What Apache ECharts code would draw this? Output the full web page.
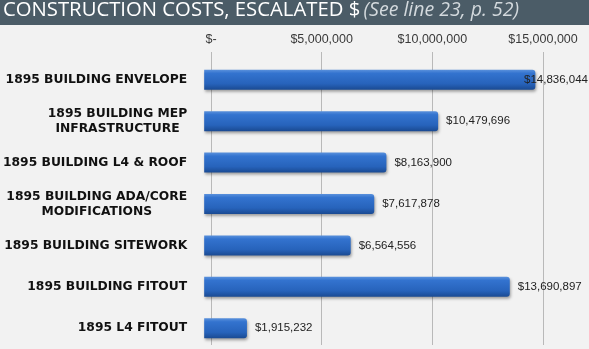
<!DOCTYPE html>
<html>
<head>
<meta charset="utf-8">
<style>
  html, body { margin: 0; padding: 0; background: #f2f2f2; }
  #chart { width: 589px; height: 349px; }
</style>
<script src="https://cdn.jsdelivr.net/npm/echarts@6/dist/echarts.min.js"></script>
</head>
<body>
<div id="chart"></div>
<script>
// Project cost items (top to bottom) and their escalated construction costs in dollars
const categories = [
  '1895 BUILDING ENVELOPE',
  '1895 BUILDING MEP\nINFRASTRUCTURE',
  '1895 BUILDING L4 & ROOF',
  '1895 BUILDING ADA/CORE\nMODIFICATIONS',
  '1895 BUILDING SITEWORK',
  '1895 BUILDING FITOUT',
  '1895 L4 FITOUT'
];
const costs = [14836044, 10479696, 8163900, 7617878, 6564556, 13690897, 1915232];

// Value axis range and tick step
const axisMin = 0;
const axisMax = 15000000;
const axisStep = 5000000;

const titleMain = 'CONSTRUCTION COSTS, ESCALATED $';
const titleNote = '(See line 23, p. 52)';

function money(v) {
  if (v === 0) return '$-';
  return '$' + v.toLocaleString('en-US');
}

const chart = echarts.init(document.getElementById('chart'), null, { renderer: 'canvas' });
const W = 589;

const option = {
  backgroundColor: '#f2f2f2',
  animation: false,
  graphic: [
    { type: 'rect', left: 0, top: 0, shape: { width: W, height: 25 }, style: { fill: '#4b5c67' }, z: 10 },
    {
      type: 'text', left: 3, top: 0, z: 11,
      style: {
        text: '{a|' + titleMain + '} {b|' + titleNote + '}',
        rich: {
          a: { fontFamily: 'Open Sans', fontSize: 20.3, fontWeight: 400, fill: '#ffffff', lineHeight: 25 },
          b: { fontFamily: 'Open Sans', fontSize: 19.5, fontStyle: 'italic', fontWeight: 400, fill: '#d3d9dd', lineHeight: 25 }
        }
      }
    }
  ],
  grid: [
    // back wall: ticks and gridlines
    { left: 211, right: W - 543, top: 52, bottom: 4 },
    // front: bars, projected slightly left for depth
    { left: 200, right: W - 539, top: 59, bottom: -1 }
  ],
  xAxis: [
    {
      gridIndex: 0, type: 'value', position: 'top', min: axisMin, max: axisMax, interval: axisStep,
      axisLine: { show: false }, axisTick: { show: false },
      axisLabel: { formatter: money, color: '#3a3a3a', fontFamily: 'Liberation Sans', fontSize: 12.5, margin: 6 },
      splitLine: { lineStyle: { color: '#b9b9b9', width: 1 } }
    },
    {
      gridIndex: 1, type: 'value', min: axisMin, max: axisMax, interval: axisStep, show: false
    }
  ],
  yAxis: [
    { gridIndex: 0, type: 'category', data: categories, inverse: true, show: false },
    {
      gridIndex: 1, type: 'category', data: categories, inverse: true,
      axisLine: { show: false }, axisTick: { show: false },
      axisLabel: {
        margin: 17,
        formatter: function (v) { return '{c|' + v + '}'; },
        rich: {
          c: { align: 'center', fontFamily: 'DejaVu Sans', fontWeight: 'bold', fontSize: 12.3, color: '#111111', lineHeight: 15 }
        }
      }
    }
  ],
  series: [
    {
      type: 'bar',
      xAxisIndex: 1, yAxisIndex: 1,
      data: costs,
      barWidth: 20,
      itemStyle: {
        color: new echarts.graphic.LinearGradient(0, 0, 0, 1, [
          { offset: 0, color: '#5a91dc' },
          { offset: 0.18, color: '#3373cf' },
          { offset: 0.7, color: '#2763bb' },
          { offset: 1, color: '#1a4a92' }
        ]),
        borderRadius: [0, 3, 3, 0],
        shadowColor: 'rgba(0,0,0,0.35)',
        shadowBlur: 3,
        shadowOffsetX: 1,
        shadowOffsetY: 2
      },
      label: {
        show: true, position: 'right', distance: 8,
        formatter: function (p) { return money(p.value); },
        color: '#222222', fontFamily: 'Liberation Sans', fontSize: 11.5
      },
      labelLayout: function (params) {
        // keep value labels inside the canvas
        const r = params.labelRect;
        if (r.x + r.width > W - 1) {
          return { x: W - r.width - 1, y: r.y, align: 'left', verticalAlign: 'top' };
        }
        return {};
      }
    }
  ]
};

chart.setOption(option);
</script>
</body>
</html>
